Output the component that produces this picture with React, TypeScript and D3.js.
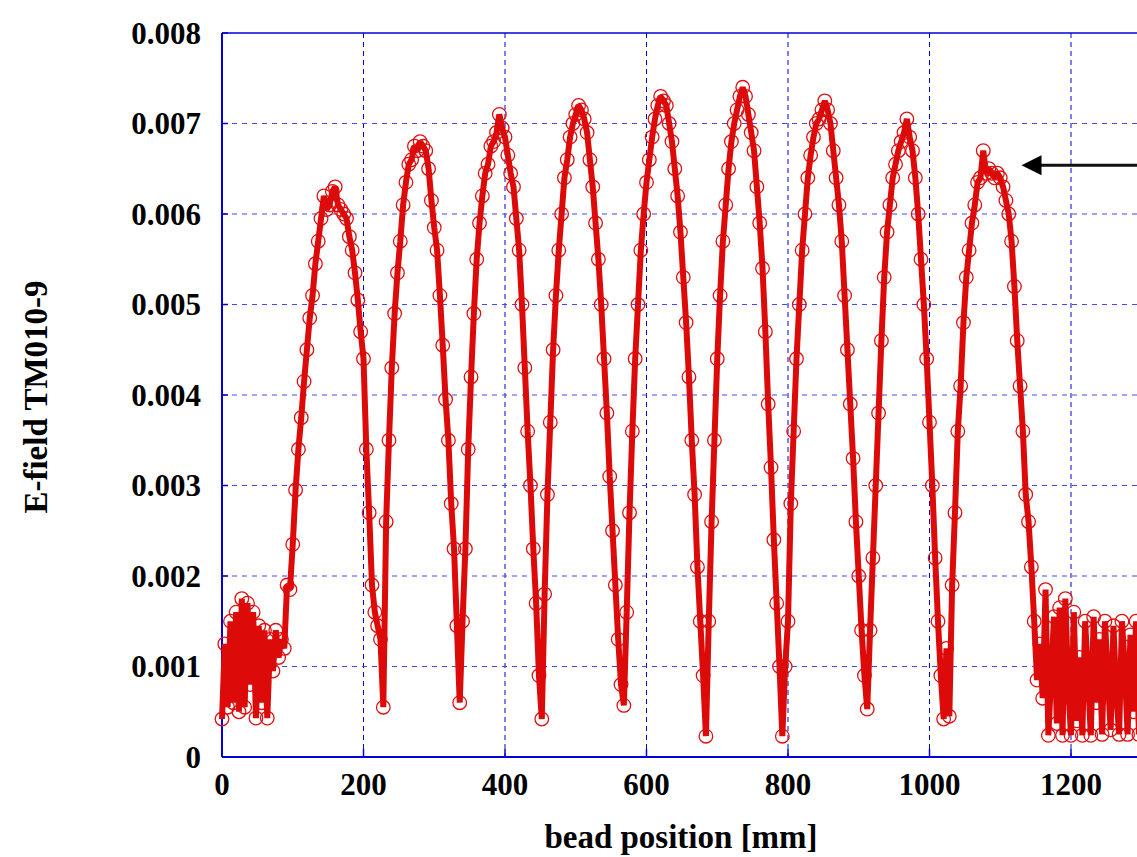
import React, { useEffect, useRef } from 'react';
import * as d3 from 'd3';

// bead-pull scan, one reading every 4 mm, E-field in units of 1e-3
const STEP_MM = 4;
const efieldMilli = [
  // 0 - 88 mm (beam pipe, noise)
  0.42, 1.25, 0.55, 1.5, 0.6, 1.6, 0.5, 1.75, 0.55, 1.7, 0.8, 1.6, 0.43, 1.45, 0.6, 1.4, 0.43, 1.3, 0.95, 1.4, 1.1, 1.3, 1.2,
  // 92 - 228 mm (cell 1)
  1.9, 1.85, 2.35, 2.95, 3.4, 3.75, 4.15, 4.5, 4.85, 5.1,
  5.45, 5.7, 5.95, 6.2, 6.05, 6.1, 6.25, 6.3, 6.1, 6.05,
  6.0, 5.95, 5.75, 5.6, 5.35, 5.05, 4.7, 4.4, 3.4, 2.7,
  1.9, 1.6, 1.45, 1.3, 0.55,
  // 232 - 336 mm (cell 2)
  2.6, 3.5, 4.3, 4.9, 5.35, 5.7, 6.1, 6.35, 6.55, 6.6,
  6.75, 6.7, 6.8, 6.75, 6.7, 6.5, 6.15, 5.85, 5.6, 5.1,
  4.55, 3.95, 3.5, 2.8, 2.3, 1.45, 0.6,
  // 340 - 452 mm (cell 3)
  1.5, 2.3, 3.4, 4.2, 4.9, 5.5, 5.9, 6.2, 6.45, 6.55,
  6.75, 6.8, 6.9, 7.1, 6.95, 6.85, 6.65, 6.45, 6.3, 5.95,
  5.6, 5.0, 4.3, 3.6, 3.0, 2.3, 1.7, 0.9, 0.42,
  // 456 - 568 mm (cell 4)
  1.8, 2.9, 3.7, 4.5, 5.1, 5.6, 6.0, 6.4, 6.6, 6.85,
  7.0, 7.1, 7.2, 7.15, 7.05, 6.9, 6.6, 6.3, 5.9, 5.5,
  5.0, 4.4, 3.8, 3.1, 2.5, 1.9, 1.3, 0.8, 0.57,
  // 572 - 684 mm (cell 5)
  1.6, 2.7, 3.6, 4.4, 5.0, 5.6, 6.0, 6.35, 6.6, 6.85,
  7.05, 7.2, 7.3, 7.25, 7.2, 7.0, 6.8, 6.5, 6.2, 5.8,
  5.3, 4.8, 4.2, 3.5, 2.9, 2.1, 1.5, 0.9, 0.23,
  // 688 - 792 mm (cell 6)
  1.5, 2.6, 3.5, 4.4, 5.1, 5.7, 6.1, 6.5, 6.8, 7.0,
  7.15, 7.3, 7.4, 7.3, 7.1, 6.9, 6.7, 6.3, 5.9, 5.4,
  4.7, 3.9, 3.2, 2.4, 1.7, 1.0, 0.23,
  // 796 - 912 mm (cell 7)
  1.0, 1.5, 2.8, 3.6, 4.4, 5.0, 5.6, 6.0, 6.4, 6.65,
  6.85, 7.0, 7.05, 7.15, 7.25, 7.15, 7.0, 6.7, 6.4, 6.1,
  5.7, 5.1, 4.5, 3.9, 3.3, 2.6, 2.0, 1.4, 0.9, 0.53,
  // 916 - 1028 mm (cell 8)
  1.4, 2.2, 3.0, 3.8, 4.6, 5.3, 5.8, 6.1, 6.4, 6.55,
  6.7, 6.8, 6.9, 7.05, 6.85, 6.7, 6.4, 6.0, 5.5, 5.0,
  4.4, 3.7, 3.0, 2.2, 1.5, 0.9, 0.42, 1.2, 0.45,
  // 1032 - 1148 mm (cell 9)
  1.9, 2.7, 3.6, 4.1, 4.8, 5.3, 5.6, 5.9, 6.1, 6.35,
  6.4, 6.7, 6.45, 6.5, 6.45, 6.4, 6.45, 6.4, 6.3, 6.15,
  6.0, 5.7, 5.2, 4.6, 4.1, 3.6, 2.9, 2.6, 2.1, 1.5,
  // 1152 - 1300 mm (beam pipe, noise)
  0.85, 1.25, 0.65, 1.85, 0.24, 0.9, 1.55, 0.37, 1.65, 0.24,
  1.75, 0.8, 0.24, 1.6, 0.4, 1.1, 0.24, 1.5, 0.9, 0.24,
  1.55, 0.6, 1.3, 0.25, 1.5, 0.9, 0.3, 1.45, 0.7, 0.25,
  1.5, 1.0, 0.25, 1.35, 0.5, 1.5, 0.25, 1.2,
];

const xTicks = [0, 200, 400, 600, 800, 1000, 1200, 1400];
const xTickLabels = ['0', '200', '400', '600', '800', '1000', '1200'];
const yTicks = [0, 1, 2, 3, 4, 5, 6, 7, 8];
const yTickLabels = ['0', '0.001', '0.002', '0.003', '0.004', '0.005', '0.006', '0.007', '0.008'];

// arrow pointing at the last cell (mm, 1e-3)
const arrowTip = { x: 1130, y: 6.54 };
const arrowTail = { x: 1330, y: 6.54 };

const FONT = "'Liberation Serif', 'Times New Roman', serif";

const App = () => {
  const chartRef = useRef<SVGSVGElement | null>(null);

  useEffect(() => {
    const svg = d3.select(chartRef.current);
    svg.selectAll('*').remove();

    const left = 222;
    const top = 33;
    const bottom = 757;

    const xScale = d3.scaleLinear().domain([0, 1400]).range([left, left + 1400 * 0.7075]);
    const yScale = d3.scaleLinear().domain([0, 8]).range([bottom, top]);

    const points = efieldMilli.map((v, i) => ({ x: i * STEP_MM, y: v }));

    // grid
    svg
      .append('g')
      .selectAll('line')
      .data(xTicks.filter((t) => t > 0))
      .enter()
      .append('line')
      .attr('x1', (d) => xScale(d))
      .attr('x2', (d) => xScale(d))
      .attr('y1', top)
      .attr('y2', bottom)
      .attr('stroke', '#0000d0')
      .attr('stroke-width', 1)
      .attr('stroke-dasharray', '5,4');

    svg
      .append('g')
      .selectAll('line')
      .data(yTicks.filter((t) => t > 0 && t < 8))
      .enter()
      .append('line')
      .attr('x1', left)
      .attr('x2', 1137)
      .attr('y1', (d) => yScale(d))
      .attr('y2', (d) => yScale(d))
      .attr('stroke', '#4848ee')
      .attr('stroke-width', 1.2)
      .attr('stroke-dasharray', '5,5');

    // frame
    svg.append('line').attr('x1', left).attr('x2', left).attr('y1', top).attr('y2', bottom)
      .attr('stroke', '#0000dd').attr('stroke-width', 2);
    svg.append('line').attr('x1', left).attr('x2', 1137).attr('y1', bottom).attr('y2', bottom)
      .attr('stroke', '#0000dd').attr('stroke-width', 2);
    svg.append('line').attr('x1', left).attr('x2', 1137).attr('y1', top).attr('y2', top)
      .attr('stroke', '#0000dd').attr('stroke-width', 1.5);

    // inward ticks
    svg
      .append('g')
      .selectAll('line')
      .data(xTicks)
      .enter()
      .append('line')
      .attr('x1', (d) => xScale(d))
      .attr('x2', (d) => xScale(d))
      .attr('y1', bottom)
      .attr('y2', bottom - 8)
      .attr('stroke', '#0000dd')
      .attr('stroke-width', 1.5);

    svg
      .append('g')
      .selectAll('line')
      .data(yTicks)
      .enter()
      .append('line')
      .attr('x1', left)
      .attr('x2', left + 6)
      .attr('y1', (d) => yScale(d))
      .attr('y2', (d) => yScale(d))
      .attr('stroke', '#0000dd')
      .attr('stroke-width', 1.5);

    // tick labels
    svg
      .append('g')
      .selectAll('text')
      .data(xTickLabels)
      .enter()
      .append('text')
      .attr('x', (d, i) => xScale(xTicks[i]))
      .attr('y', 795)
      .attr('text-anchor', 'middle')
      .style('font-family', FONT)
      .style('font-weight', 'bold')
      .style('font-size', '31px')
      .text((d) => d);

    svg
      .append('g')
      .selectAll('text')
      .data(yTicks)
      .enter()
      .append('text')
      .attr('x', 201)
      .attr('y', (d) => yScale(d))
      .attr('dy', '0.34em')
      .attr('text-anchor', 'end')
      .style('font-family', FONT)
      .style('font-weight', 'bold')
      .style('font-size', '31px')
      .text((d, i) => yTickLabels[i]);

    // axis titles
    svg
      .append('text')
      .attr('x', 681)
      .attr('y', 848)
      .attr('text-anchor', 'middle')
      .style('font-family', FONT)
      .style('font-weight', 'bold')
      .style('font-size', '33px')
      .text('bead position [mm]');

    svg
      .append('text')
      .attr('transform', 'translate(47, 397) rotate(-90)')
      .attr('text-anchor', 'middle')
      .style('font-family', FONT)
      .style('font-weight', 'bold')
      .style('font-size', '33px')
      .text('E-field TM010-9');

    // measured curve
    const line = d3
      .line<{ x: number; y: number }>()
      .x((d) => xScale(d.x))
      .y((d) => yScale(d.y));

    svg
      .append('g')
      .selectAll('circle')
      .data(points)
      .enter()
      .append('circle')
      .attr('cx', (d) => xScale(d.x))
      .attr('cy', (d) => yScale(d.y))
      .attr('r', 6.8)
      .attr('fill', 'none')
      .attr('stroke', '#e01010')
      .attr('stroke-width', 1.3);

    svg
      .append('path')
      .datum(points)
      .attr('d', line)
      .attr('fill', 'none')
      .attr('stroke', '#dd0a0a')
      .attr('stroke-width', 6)
      .attr('stroke-linejoin', 'bevel');

    // arrow
    const tipX = xScale(arrowTip.x);
    const tipY = yScale(arrowTip.y);
    svg
      .append('line')
      .attr('x1', tipX + 15)
      .attr('x2', xScale(arrowTail.x))
      .attr('y1', tipY)
      .attr('y2', yScale(arrowTail.y))
      .attr('stroke', '#111')
      .attr('stroke-width', 3);
    svg
      .append('path')
      .attr('d', `M${tipX},${tipY} L${tipX + 20},${tipY - 10} L${tipX + 20},${tipY + 10} Z`)
      .attr('fill', '#000');

    return () => {
      d3.select(chartRef.current).selectAll('*').remove();
    };
  }, []);

  return (
    <svg
      ref={chartRef}
      width={1137}
      height={857}
      style={{ position: 'absolute', left: 0, top: 0, background: '#fff' }}
    />
  );
};

export default App;
